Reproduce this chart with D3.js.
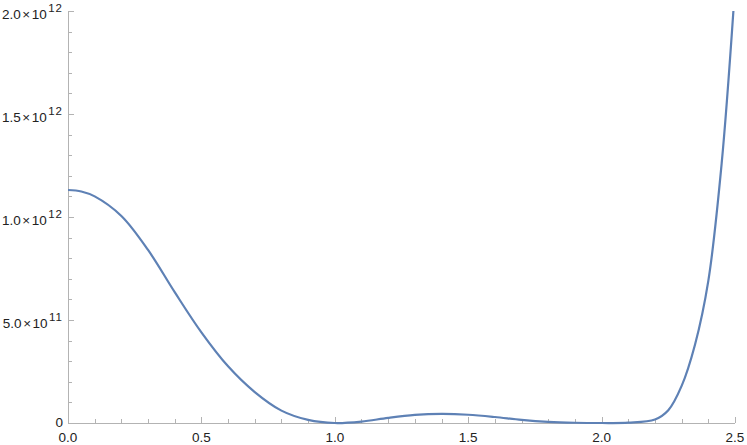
<!DOCTYPE html>
<html>
<head>
<meta charset="utf-8">
<script src="https://cdn.jsdelivr.net/npm/d3@7"></script>
<style>
  body { margin: 0; background: #fff; }
  svg { display: block; }
</style>
</head>
<body>
<div id="chart"></div>
<script>
// curve samples (value in units of 1e11)
const xs = [0, 0.05, 0.1, 0.2, 0.3, 0.4, 0.5, 0.6, 0.7, 0.8, 0.9, 1.0,
  1.1, 1.2, 1.3, 1.4, 1.5, 1.6, 1.7, 1.8, 1.9, 2.0, 2.1, 2.2,
  2.25, 2.3, 2.35, 2.4, 2.45, 2.494];
const ys = [11.31, 11.24, 11.0, 10.05, 8.4, 6.35, 4.4, 2.75, 1.5, 0.6, 0.15, 0,
  0.07, 0.25, 0.39, 0.44, 0.4, 0.29, 0.15, 0.055, 0.012, 0, 0.015, 0.17,
  0.62, 1.8, 3.8, 6.9, 12.6, 20.0];

const xTicks = [0, 0.5, 1.0, 1.5, 2.0, 2.5];
const xTickLabels = ['0.0', '0.5', '1.0', '1.5', '2.0', '2.5'];
const yTicks = [0, 5e11, 1e12, 1.5e12, 2e12];
const yTickMantissa = ['0', '5.0', '1.0', '1.5', '2.0'];
const yTickExp = ['', '11', '12', '12', '12'];

const W = 747, H = 445;
const margin = { top: 11, right: 12, bottom: 22, left: 68 };

const data = xs.map((x, i) => ({ x, v: ys[i] * 1e11 }));

const svg = d3.select('#chart').append('svg')
  .attr('width', W).attr('height', H);

const xScale = d3.scaleLinear().domain([0, 2.5]).range([margin.left, W - margin.right]);
const yScale = d3.scaleLinear().domain([0, 2e12]).range([H - margin.bottom, margin.top]);

const axisColor = '#b3b3b3';
const font = '"Liberation Sans", Arial, sans-serif';

// minor ticks
const xMinor = d3.range(0, 2.5001, 0.1).filter(v => Math.abs(v * 2 - Math.round(v * 2)) > 1e-6);
const yMinor = d3.range(0, 2e12 + 1, 1e11).filter(v => (v / 5e11) % 1 !== 0);

const ax = svg.append('g').attr('stroke', axisColor).attr('stroke-width', 1);
ax.append('line')
  .attr('x1', xScale(0)).attr('x2', xScale(2.5))
  .attr('y1', yScale(0) + 0.5).attr('y2', yScale(0) + 0.5);
ax.append('line')
  .attr('x1', xScale(0) + 0.5).attr('x2', xScale(0) + 0.5)
  .attr('y1', yScale(0)).attr('y2', yScale(2e12));

ax.selectAll('line.xmaj').data(xTicks).join('line')
  .attr('class', 'xmaj')
  .attr('x1', d => Math.round(xScale(d)) + 0.5).attr('x2', d => Math.round(xScale(d)) + 0.5)
  .attr('y1', yScale(0)).attr('y2', yScale(0) - 6);
ax.selectAll('line.xmin').data(xMinor).join('line')
  .attr('class', 'xmin')
  .attr('x1', d => Math.round(xScale(d)) + 0.5).attr('x2', d => Math.round(xScale(d)) + 0.5)
  .attr('y1', yScale(0)).attr('y2', yScale(0) - 4);
ax.selectAll('line.ymaj').data(yTicks).join('line')
  .attr('class', 'ymaj')
  .attr('x1', xScale(0)).attr('x2', xScale(0) + 6)
  .attr('y1', d => Math.round(yScale(d)) + 0.5).attr('y2', d => Math.round(yScale(d)) + 0.5);
ax.selectAll('line.ymin').data(yMinor).join('line')
  .attr('class', 'ymin')
  .attr('x1', xScale(0)).attr('x2', xScale(0) + 4)
  .attr('y1', d => Math.round(yScale(d)) + 0.5).attr('y2', d => Math.round(yScale(d)) + 0.5);

// x labels
svg.selectAll('text.xl').data(xTicks).join('text')
  .attr('class', 'xl')
  .attr('x', d => xScale(d))
  .attr('y', yScale(0) + 19)
  .attr('text-anchor', 'middle')
  .attr('font-family', font)
  .attr('font-size', '13.5px')
  .attr('fill', '#222')
  .text((d, i) => xTickLabels[i]);

// y labels with superscript exponents
const yl = svg.selectAll('text.yl').data(yTicks).join('text')
  .attr('class', 'yl')
  .attr('x', xScale(0) - 5)
  .attr('y', d => yScale(d) + (d === 0 ? 4 : 8))
  .attr('text-anchor', 'end')
  .attr('font-family', font)
  .attr('font-size', '13.5px')
  .attr('fill', '#222');
yl.each(function (d, i) {
  const t = d3.select(this);
  if (!yTickExp[i]) { t.text(yTickMantissa[i]); return; }
  t.append('tspan').text(yTickMantissa[i]);
  t.append('tspan').attr('dx', 1.5).text('\u00d7');
  t.append('tspan').attr('dx', 1.5).text('10');
  t.append('tspan').attr('dx', 1.5).attr('dy', -7)
    .attr('font-size', '11.5px').attr('letter-spacing', 1).text(yTickExp[i]);
});

// curve, clipped to the plot range
svg.append('clipPath').attr('id', 'clip').append('rect')
  .attr('x', xScale(0)).attr('y', yScale(2e12))
  .attr('width', xScale(2.5) - xScale(0)).attr('height', yScale(0) - yScale(2e12) + 2);

const line = d3.line()
  .x(d => xScale(d.x))
  .y(d => yScale(Math.max(0, d.v)))
  .curve(d3.curveCatmullRom.alpha(0.5));

svg.append('path')
  .datum(data)
  .attr('clip-path', 'url(#clip)')
  .attr('fill', 'none')
  .attr('stroke', '#5e81b5')
  .attr('stroke-width', 2.2)
  .attr('d', line);
</script>
</body>
</html>
